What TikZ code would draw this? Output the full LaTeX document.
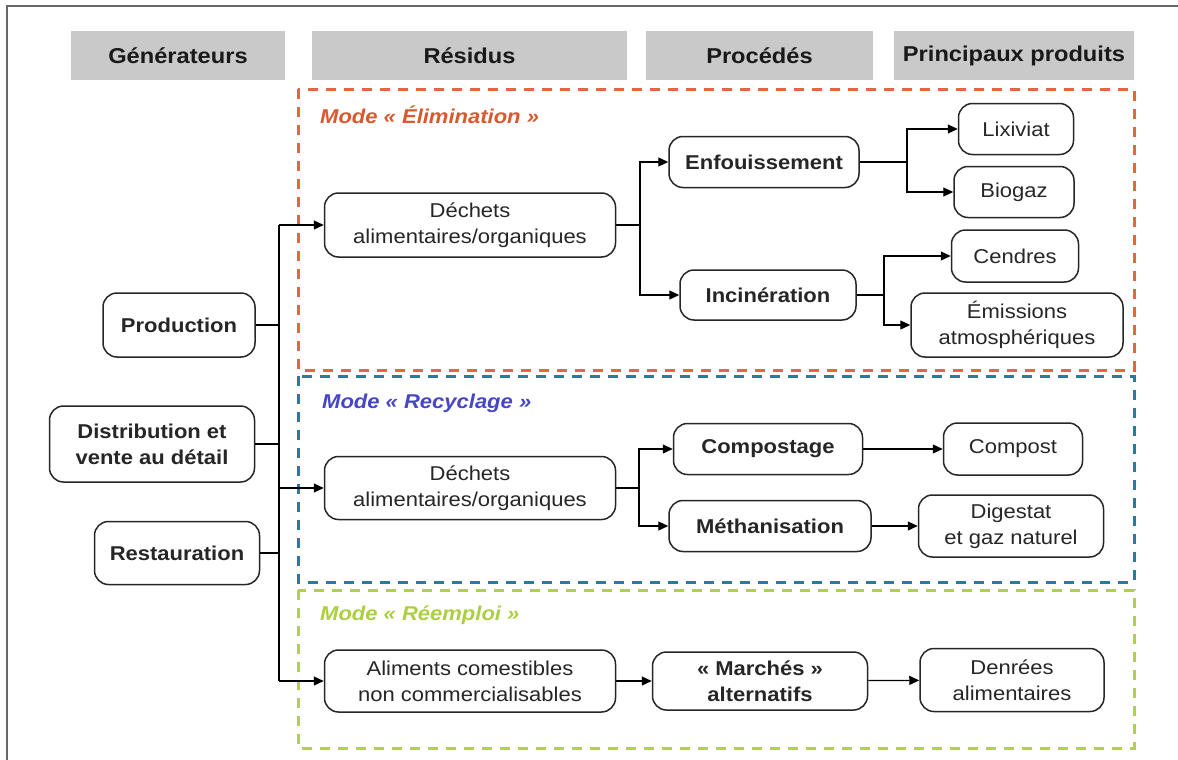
\documentclass[tikz,border=0pt]{standalone}
\usepackage{fontspec}
\setmainfont[FakeStretch=1.1]{Liberation Sans}
\usetikzlibrary{arrows.meta}

\definecolor{elimc}{HTML}{E2663E}
\definecolor{recyc}{HTML}{2A7A9E}
\definecolor{reemc}{HTML}{B2D245}
\definecolor{elimt}{HTML}{D9582E}
\definecolor{recyt}{HTML}{4646C6}
\definecolor{reemt}{HTML}{ABCF40}
\definecolor{hdrgray}{HTML}{C9C9C9}
\definecolor{framegray}{HTML}{666666}

\begin{document}
\begin{tikzpicture}[x=1pt,y=-1pt,
  hdr/.style={fill=hdrgray, inner sep=0, text=black!90,
    font=\bfseries\fontsize{21.5}{24}\selectfont},
  box/.style={draw=black!85, line width=1.5pt, rounded corners=14pt, fill=white,
    inner sep=0, align=center, text=black!85, font=\fontsize{20}{26}\selectfont},
  bbox/.style={box, font=\bfseries\fontsize{20}{26}\selectfont},
  link/.style={line width=1.2pt, draw=black},
  arr/.style={link, -{Triangle[length=10pt,width=9pt]}},
  zone/.style={dash pattern=on 10pt off 8pt, line width=3pt},
  modelbl/.style={anchor=west, inner sep=0, font=\bfseries\itshape\fontsize{20}{24}\selectfont}
]
\useasboundingbox (0,0) rectangle (1178,760);

% outer frame (top and left edges)
\draw[framegray, line width=1.2pt] (7,760) -- (7,6) -- (1178,6);

% column headers
\node[hdr, minimum width=214pt, minimum height=49pt] (hgen) at (178,55.5) {Générateurs};
\node[hdr, minimum width=315pt, minimum height=49pt] (hres) at (469.5,55.5) {Résidus};
\node[hdr, minimum width=227pt, minimum height=49pt] (hpro) at (759.5,55.5) {Procédés};
\node[hdr, minimum width=240pt, minimum height=49pt] (hprd) at (1014,55.5) {Principaux produits};

% mode zones
\draw[zone, elimc] (298,89) rectangle (1134,370);
\draw[zone, recyc] (298,376) rectangle (1134,582);
\draw[zone, reemc] (298,590) rectangle (1134,748);
\node[modelbl, text=elimt] (melim) at (320,115) {Mode « Élimination »};
\node[modelbl, text=recyt] (mrecy) at (322,403) {Mode « Recyclage »};
\node[modelbl, text=reemt] (mreem) at (320,615) {Mode « Réemploi »};

% generators
\node[bbox, minimum width=152pt, minimum height=64pt] (prod) at (179,325) {Production};
\node[bbox, minimum width=205pt, minimum height=76pt] (dist) at (152,444) {Distribution et\\vente au détail};
\node[bbox, minimum width=165pt, minimum height=63pt] (rest) at (177,553) {Restauration};

% residues
\node[box, minimum width=291pt, minimum height=64pt] (dech1) at (470,225) {Déchets\\alimentaires/organiques};
\node[box, minimum width=291pt, minimum height=63pt] (dech2) at (470,488) {Déchets\\alimentaires/organiques};
\node[box, minimum width=291pt, minimum height=62pt] (alim) at (470,681) {Aliments comestibles\\non commercialisables};

% processes
\node[bbox, minimum width=190pt, minimum height=51pt] (enf) at (764,162) {Enfouissement};
\node[bbox, minimum width=176pt, minimum height=50pt] (inc) at (768,295) {Incinération};
\node[bbox, minimum width=189pt, minimum height=51pt] (comp) at (768,449) {Compostage};
\node[bbox, minimum width=202pt, minimum height=51pt] (meth) at (770,526) {Méthanisation};
\node[bbox, minimum width=215pt, minimum height=58pt] (march) at (760,681) {« Marchés »\\alternatifs};

% products
\node[box, minimum width=115pt, minimum height=51pt] (lix) at (1016,129) {Lixiviat};
\node[box, minimum width=120pt, minimum height=51pt] (bio) at (1014,192) {Biogaz};
\node[box, minimum width=127pt, minimum height=52pt] (cen) at (1015,256) {Cendres};
\node[box, minimum width=212pt, minimum height=64pt] (emi) at (1017,325) {Émissions\\atmosphériques};
\node[box, minimum width=139pt, minimum height=52pt] (cpt) at (1013,449) {Compost};
\node[box, minimum width=185pt, minimum height=62pt] (dig) at (1011,526) {Digestat\\et gaz naturel};
\node[box, minimum width=184pt, minimum height=63pt] (denr) at (1012,680) {Denrées\\alimentaires};

% collector bus from the generators
\coordinate (busT) at (279,225);
\coordinate (busB) at (279,681);
\draw[link] (busT) -- (busB);
\draw[link] (prod.east) -- (prod.east -| busT);
\draw[link] (dist.east) -- (dist.east -| busT);
\draw[link] (rest.east) -- (rest.east -| busT);
\draw[arr] (busT) -- (dech1.west);
\draw[arr] (busT |- dech2.west) -- (dech2.west);
\draw[arr] (busB) -- (alim.west);

% elimination branches
\coordinate (f1) at (640,225);
\draw[link] (dech1.east) -- (f1);
\draw[arr] (f1) |- (enf.west);
\draw[arr] (f1) |- (inc.west);
\coordinate (f2) at (907,162);
\draw[link] (enf.east) -- (f2);
\draw[arr] (f2) |- (lix.west);
\draw[arr] (f2) |- (bio.west);
\coordinate (f3) at (884,295);
\draw[link] (inc.east) -- (f3);
\draw[arr] (f3) |- (cen.west);
\draw[arr] (f3) |- (emi.west);

% recycling branches
\coordinate (f4) at (639,488);
\draw[link] (dech2.east) -- (f4);
\draw[arr] (f4) |- (comp.west);
\draw[arr] (f4) |- (meth.west);
\draw[arr] (comp) -- (cpt);
\draw[arr] (meth) -- (dig);

% reuse chain
\draw[arr] (alim) -- (march);
\draw[arr] (march) -- (denr);
\end{tikzpicture}
\end{document}
